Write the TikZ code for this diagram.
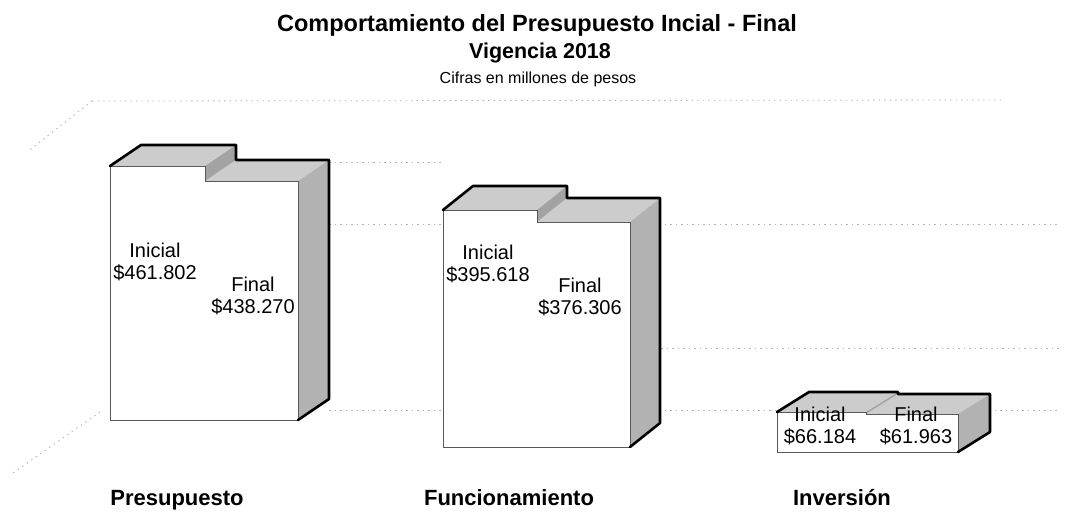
\documentclass[tikz,border=0pt]{standalone}
\usepackage{fontspec}
\setmainfont{Liberation Sans}
\tikzset{
  topface/.style={fill=gray!40},
  sideface/.style={fill=gray!60},
  stepface/.style={fill=gray!72},
  thinedge/.style={draw=black!65, line width=0.6pt},
  thickedge/.style={draw=black, line width=2.6pt, line join=round, line cap=round},
  gridln/.style={draw=gray!60, line width=0.8pt, dash pattern=on 1.5pt off 4pt},
  lbl/.style={font=\fontsize{20}{22}\selectfont, align=center, inner sep=0pt},
  cat/.style={font=\bfseries\fontsize{22}{26}\selectfont, anchor=base, inner sep=0pt},
  ttl/.style={anchor=base, inner sep=0pt},
}
\newcommand{\barpair}[8]{%
  \pgfmathsetmacro{\xa}{#1}\pgfmathsetmacro{\xb}{#2}\pgfmathsetmacro{\xc}{#3}%
  \pgfmathsetmacro{\ti}{#4}\pgfmathsetmacro{\tf}{#5}\pgfmathsetmacro{\bt}{#6}%
  \pgfmathsetmacro{\xA}{#1+#7}\pgfmathsetmacro{\xB}{#2+#7}\pgfmathsetmacro{\xC}{#3+#7}%
  \pgfmathsetmacro{\tI}{#4+#8}\pgfmathsetmacro{\tF}{#5+#8}\pgfmathsetmacro{\bT}{#6+#8}%
  \fill[white] (\xa,\ti) rectangle (\xb,\bt);
  \fill[topface] (\xa,\ti) -- (\xb,\ti) -- (\xB,\tI) -- (\xA,\tI) -- cycle;
  \fill[stepface] (\xb,\ti) -- (\xB,\tI) -- (\xB,\bT) -- (\xb,\bt) -- cycle;
  \fill[white] (\xb,\tf) rectangle (\xc,\bt);
  \fill[topface] (\xb,\tf) -- (\xc,\tf) -- (\xC,\tF) -- (\xB,\tF) -- cycle;
  \fill[sideface] (\xc,\tf) -- (\xC,\tF) -- (\xC,\bT) -- (\xc,\bt) -- cycle;
  \draw[thinedge] (\xa,\ti) -- (\xa,\bt) -- (\xc,\bt) -- (\xc,\tf) -- (\xb,\tf);
  \draw[thinedge] (\xa,\ti) -- (\xb,\ti) -- (\xb,\tf);
  \draw[thickedge] (\xa,\ti) -- (\xA,\tI) -- (\xB,\tI) -- (\xB,\tF) -- (\xC,\tF) -- (\xC,\bT) -- (\xc,\bt);
}
\begin{document}
\begin{tikzpicture}[x=1pt,y=-1pt]
\useasboundingbox (0,0) rectangle (1076,512);
\fill[white] (0,0) rectangle (1076,512);
% titles
\node[ttl, font=\bfseries\fontsize{23.5}{27}\selectfont] (t1) at (537,31) {Comportamiento del Presupuesto Incial - Final};
\node[ttl, font=\bfseries\fontsize{21.5}{26}\selectfont] (t2) at (540,58) {Vigencia 2018};
\node[ttl, font=\fontsize{16}{19}\selectfont] (t3) at (538,83) {Cifras en millones de pesos};
% gridlines and walls
\coordinate (w1) at (92,101); \coordinate (w2) at (27,152);
\coordinate (w3) at (100,412); \coordinate (w4) at (10,475);
\draw[gridln] (w1) -- (w2);
\draw[gridln] (w3) -- (w4);
\draw[gridln] (w1) -- (1005,100);
\draw[gridln] (329,162) -- (443,162);
\draw[gridln] (329,224) -- (1060,224);
\draw[gridln] (661,348) -- (1060,348);
\draw[gridln] (329,410) -- (1060,410);
% bars
\barpair{110}{205}{298}{166}{181}{420}{31}{-21}
\barpair{443}{537}{630}{210}{222}{447}{30}{-24}
\barpair{777}{866}{958}{412}{414}{452}{32}{-20}
% value labels
\node[lbl] (pi) at (155,262) {Inicial\\\$461.802};
\node[lbl] (pf) at (253,296) {Final\\\$438.270};
\node[lbl] (fi) at (488,264) {Inicial\\\$395.618};
\node[lbl] (ff) at (580,297) {Final\\\$376.306};
\node[lbl] (ii) at (820,426) {Inicial\\\$66.184};
\node[lbl] (if) at (916,426) {Final\\\$61.963};
% category labels
\node[cat] (c1) at (177,505) {Presupuesto};
\node[cat] (c2) at (509,505) {Funcionamiento};
\node[cat] (c3) at (842,505) {Inversión};
\end{tikzpicture}
\end{document}
